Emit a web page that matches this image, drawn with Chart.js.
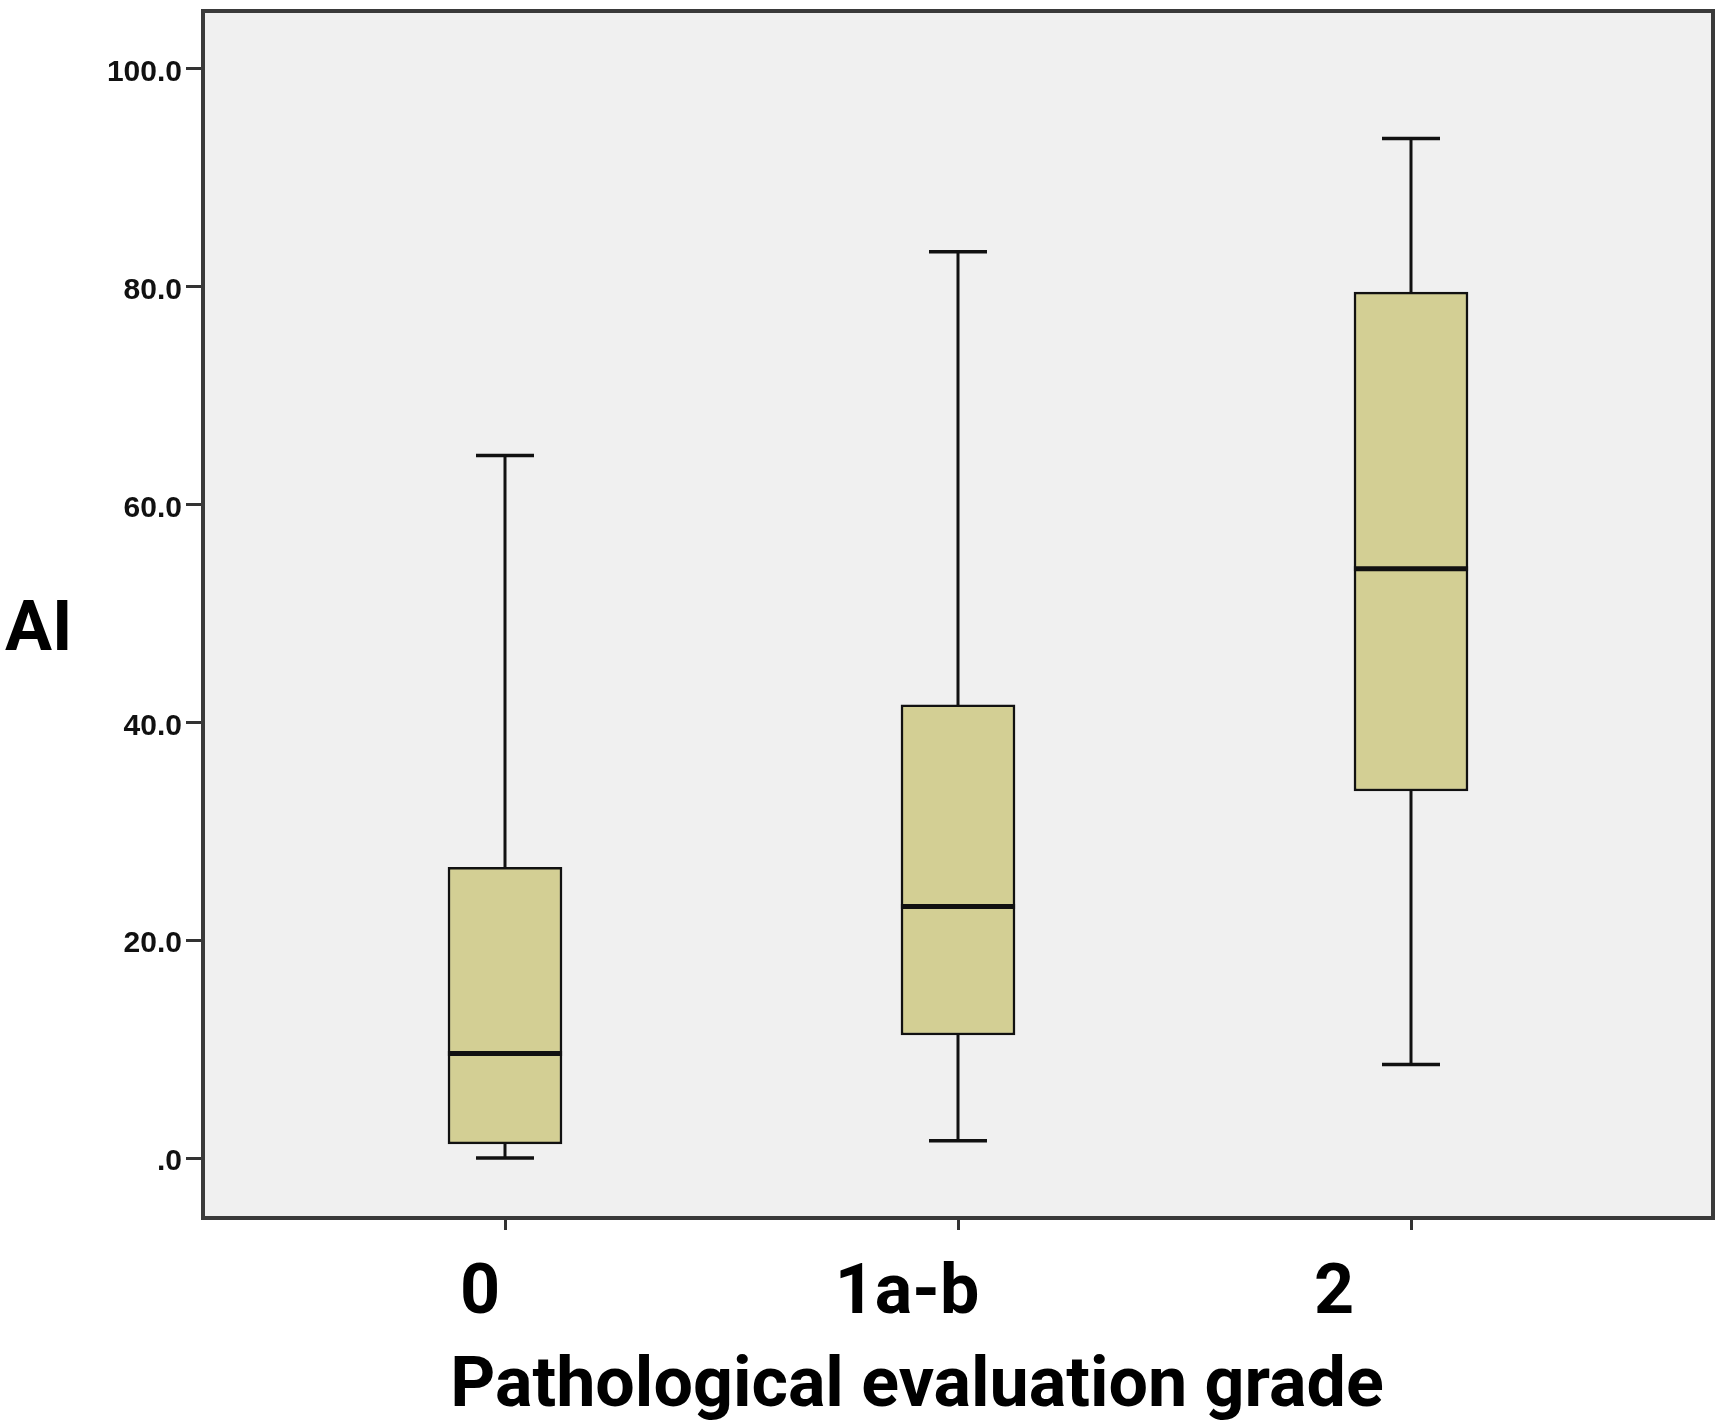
<!DOCTYPE html>
<html lang="en">
  <head>
    <meta charset="UTF-8" />
    <title>AI by pathological evaluation grade - Chart.js</title>
    <script src="https://cdn.jsdelivr.net/npm/chart.js"></script>
    <style>
      body {
        margin: 0;
        background: #fff;
      }
    </style>
  </head>
  <body>
    <canvas id="boxChart" width="1724" height="1422"></canvas>
    <script>
      // values
      const grades = ['0', '1a-b', '2'];
      const aiMin = [0.0, 1.6, 8.6];
      const aiQ1 = [1.3, 11.3, 33.7];
      const aiMedian = [9.6, 23.1, 54.1];
      const aiQ3 = [26.7, 41.6, 79.5];
      const aiMax = [64.5, 83.2, 93.6];
      const yTickValues = [0, 20, 40, 60, 80, 100];
      const yTickLabels = ['.0', '20.0', '40.0', '60.0', '80.0', '100.0'];

      const BOX_PX = 114;
      const BOX_HALF = 0.126; // in x units
      const CAP_HALF = 0.064;
      const INK = '#111';
      const LABEL_FONT = 'Roboto, "Noto Sans", sans-serif';

      // box = floating bar from Q1 to Q3
      const boxes = grades.map((g, i) => ({ x: i, y: [aiQ1[i], aiQ3[i]] }));

      const whiskers = [];
      const caps = [];
      const medians = [];
      grades.forEach((g, i) => {
        whiskers.push({ x: i, y: aiMin[i] }, { x: i, y: aiQ1[i] }, { x: i, y: null });
        whiskers.push({ x: i, y: aiQ3[i] }, { x: i, y: aiMax[i] }, { x: i, y: null });
        caps.push({ x: i - CAP_HALF, y: aiMin[i] }, { x: i + CAP_HALF, y: aiMin[i] }, { x: i, y: null });
        caps.push({ x: i - CAP_HALF, y: aiMax[i] }, { x: i + CAP_HALF, y: aiMax[i] }, { x: i, y: null });
        medians.push({ x: i - BOX_HALF, y: aiMedian[i] }, { x: i + BOX_HALF, y: aiMedian[i] }, { x: i, y: null });
      });

      const noPad = (s) => {
        s.paddingTop = 0;
        s.paddingBottom = 0;
        s.paddingLeft = 0;
        s.paddingRight = 0;
      };

      const frame = {
        id: 'frame',
        beforeDraw(chart) {
          const { ctx, chartArea: a } = chart;
          ctx.save();
          ctx.fillStyle = '#fff';
          ctx.fillRect(0, 0, chart.width, chart.height);
          ctx.fillStyle = '#f0f0f0';
          ctx.fillRect(a.left, a.top, a.right - a.left, a.bottom - a.top);
          ctx.restore();
        },
        afterDraw(chart) {
          const { ctx, chartArea: a } = chart;
          ctx.save();
          ctx.strokeStyle = '#3a3a3a';
          ctx.lineWidth = 4;
          ctx.strokeRect(a.left, a.top, a.right - a.left, a.bottom - a.top);

          ctx.fillStyle = '#000';
          ctx.font = 'bold 70px ' + LABEL_FONT;
          ctx.textBaseline = 'alphabetic';
          ctx.textAlign = 'left';
          ctx.fillText('AI', 5, 650);

          const x2 = chart.scales.x2;
          ctx.textAlign = 'center';
          ctx.fillText('Pathological evaluation grade', x2.getPixelForValue(1) + 10, 1406);
          ctx.restore();
        },
      };

      const ctx = document.getElementById('boxChart').getContext('2d');
      new Chart(ctx, {
        type: 'bar',
        data: {
          datasets: [
            {
              type: 'line',
              data: medians,
              borderColor: INK,
              borderWidth: 5,
              pointRadius: 0,
              spanGaps: false,
              order: 0,
            },
            {
              type: 'line',
              data: whiskers,
              borderColor: INK,
              borderWidth: 3,
              pointRadius: 0,
              spanGaps: false,
              order: 1,
            },
            {
              type: 'line',
              data: caps,
              borderColor: INK,
              borderWidth: 3.5,
              pointRadius: 0,
              spanGaps: false,
              order: 1,
            },
            {
              type: 'bar',
              data: boxes,
              backgroundColor: '#d3cf94',
              borderColor: INK,
              borderWidth: 2.5,
              borderSkipped: false,
              barThickness: BOX_PX,
              order: 2,
            },
          ],
        },
        options: {
          responsive: false,
          animation: false,
          layout: { padding: { top: 11, right: 11, left: 0, bottom: 0 } },
          plugins: { legend: { display: false }, tooltip: { enabled: false } },
          scales: {
            x: {
              type: 'linear',
              position: 'bottom',
              weight: 0,
              min: -2 / 3,
              max: 8 / 3,
              offset: false,
              afterBuildTicks: (s) => {
                s.ticks = grades.map((g, i) => ({ value: i }));
              },
              afterFit: (s) => {
                s.height = 12;
                noPad(s);
              },
              border: { display: false },
              grid: {
                offset: false,
                drawOnChartArea: false,
                drawTicks: true,
                tickLength: 12,
                color: '#333',
                lineWidth: 3,
              },
              ticks: { display: false },
            },
            x2: {
              type: 'linear',
              position: 'bottom',
              weight: 1,
              min: -0.6487,
              max: 2.8876,
              offset: false,
              afterBuildTicks: (s) => {
                s.ticks = grades.map((g, i) => ({ value: i }));
              },
              afterFit: (s) => {
                s.height = 192;
                noPad(s);
              },
              border: { display: false },
              grid: { display: false, drawTicks: false, offset: false },
              ticks: {
                padding: 23,
                color: '#000',
                font: { family: LABEL_FONT, size: 70, weight: 'bold' },
                maxRotation: 0,
                callback: (v) => grades[v],
              },
            },
            y: {
              min: -5.5,
              max: 105.3,
              afterBuildTicks: (s) => {
                s.ticks = yTickValues.map((v) => ({ value: v }));
              },
              afterFit: (s) => {
                s.width = 203;
                noPad(s);
              },
              border: { display: false },
              grid: {
                drawOnChartArea: false,
                drawTicks: true,
                tickLength: 17,
                color: '#333',
                lineWidth: 3,
              },
              ticks: {
                padding: 4,
                labelOffset: 4,
                color: '#111',
                font: {
                  family: '"Liberation Sans", Arial, sans-serif',
                  size: 30,
                  weight: 'bold',
                },
                callback: (v) => yTickLabels[yTickValues.indexOf(v)],
              },
            },
          },
        },
        plugins: [frame],
      });
    </script>
  </body>
</html>
